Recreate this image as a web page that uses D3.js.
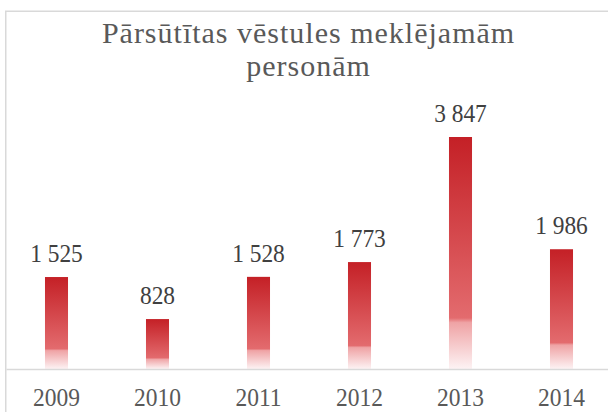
<!doctype html>
<html>
<head>
<meta charset="utf-8">
<script src="https://d3js.org/d3.v7.min.js"></script>
<style>
  body { margin: 0; background: #fff; }
  svg text { font-family: "Liberation Serif", "Times New Roman", serif; }
</style>
</head>
<body>
<svg width="608" height="412"></svg>
<script>
    // data
    var years = ["2009", "2010", "2011", "2012", "2013", "2014"];
    var letters = [1525, 828, 1528, 1773, 3847, 1986];
    var titleLines = ["Pārsūtītas vēstules meklējamām", "personām"];

    var svg = d3.select("svg");
    var baseY = 369;
    var serif = "'Liberation Serif', 'Times New Roman', serif";

    var lv = d3.formatLocale({ decimal: ",", thousands: "\u00a0", grouping: [3], currency: ["", ""] });
    var fmt = lv.format(",d");

    var x = d3.scaleBand()
        .domain(years)
        .range([6, 612])
        .paddingInner(0.772)
        .paddingOuter(0.386);

    var y = d3.scaleLinear()
        .domain([0, 3847])
        .range([baseY, 137]);

    // gradient for bars
    var grad = svg.append("defs").append("linearGradient")
        .attr("id", "barGrad")
        .attr("x1", 0).attr("y1", 0).attr("x2", 0).attr("y2", 1);
    grad.append("stop").attr("offset", "0%").attr("stop-color", "#c42026");
    grad.append("stop").attr("offset", "78%").attr("stop-color", "#e36b6e");
    grad.append("stop").attr("offset", "80%").attr("stop-color", "#efa3a5");
    grad.append("stop").attr("offset", "100%").attr("stop-color", "#fdf3f4");

    // chart border
    svg.append("rect")
        .attr("x", 5.75).attr("y", 11.25)
        .attr("width", 800).attr("height", 600)
        .attr("fill", "none")
        .attr("stroke", "#d9d9d9")
        .attr("stroke-width", 1.5);

    // title
    var title = svg.append("text")
        .attr("text-anchor", "middle")
        .style("font-family", serif)
        .style("font-size", "30px")
        .style("letter-spacing", "1px")
        .style("fill", "#595959");
    title.selectAll("tspan")
        .data(titleLines)
        .enter().append("tspan")
        .attr("x", 308.5)
        .attr("y", function(d, i) { return 42.5 + i * 33.5; })
        .text(function(d) { return d; });

    // bars
    svg.append("g")
        .selectAll("rect")
        .data(letters)
        .enter().append("rect")
        .attr("x", function(d, i) { return x(years[i]); })
        .attr("y", function(d) { return y(d); })
        .attr("width", x.bandwidth())
        .attr("height", function(d) { return baseY - y(d); })
        .attr("fill", "url(#barGrad)");

    // value labels
    svg.append("g")
        .selectAll("text")
        .data(letters)
        .enter().append("text")
        .attr("transform", function(d, i) {
            return "translate(" + (x(years[i]) + x.bandwidth() / 2) + "," + (y(d) - 15) + ") scale(0.9,1)";
        })
        .attr("text-anchor", "middle")
        .style("font-family", serif)
        .style("font-size", "26px")
        .style("fill", "#404040")
        .text(function(d) { return fmt(d); });

    // x axis
    var ax = svg.append("g")
        .attr("transform", "translate(0," + baseY + ")")
        .call(d3.axisBottom(x).tickSize(0));
    ax.select(".domain").attr("stroke", "#d9d9d9").attr("stroke-width", 1.5);
    ax.selectAll("text")
        .style("font-family", serif)
        .style("font-size", "25px")
        .style("fill", "#595959")
        .attr("y", 37)
        .attr("dy", 0)
        .attr("transform", "scale(0.94,1)");
</script>
</body>
</html>
